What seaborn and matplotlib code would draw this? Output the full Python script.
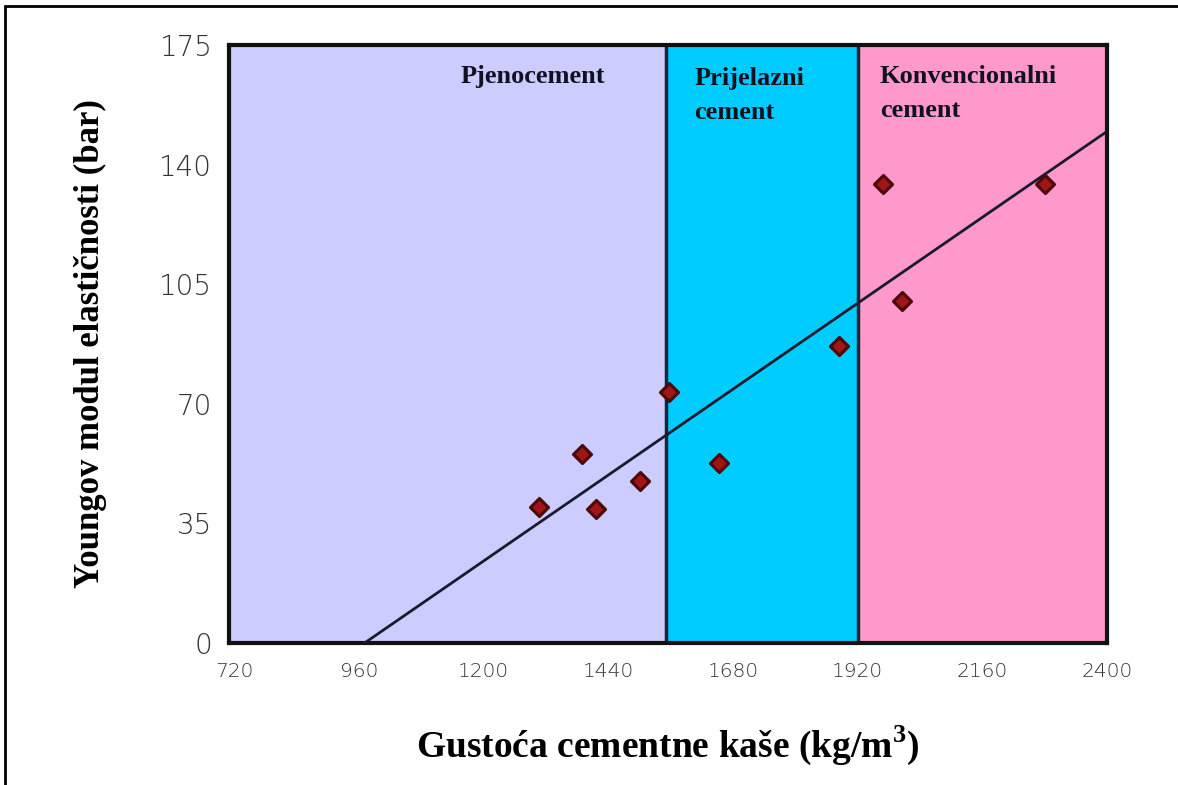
import matplotlib
matplotlib.use('Agg')
import matplotlib.pyplot as plt
from matplotlib.patches import Rectangle
import pandas as pd
import seaborn as sns

# Measured points (density kg/m3, Young's modulus bar)
density = [1307, 1390, 1417, 1501, 1556, 1654, 1885, 1968, 2006, 2281]
modulus = [39.9, 55.2, 39.3, 47.3, 73.4, 52.6, 86.9, 134.2, 100.1, 134.2]

# Trend line end points
trend_x = [971, 2400]
trend_y = [0, 149.7]

# Cement type regions
region_edges = [710, 1552, 1920, 2400]
region_colors = ['#ccccff', '#00ccff', '#ff99cc']
region_names = ['Pjenocement', 'Prijelazni\ncement', 'Konvencionalni\ncement']

x_ticks = [720, 960, 1200, 1440, 1680, 1920, 2160, 2400]
y_ticks = [0, 35, 70, 105, 140, 175]

sns.set_theme(style='white')
plt.rcParams['font.family'] = ['DejaVu Sans']

fig = plt.figure(figsize=(11.78, 7.85), dpi=100)
ax = fig.add_axes([0.1944, 0.1809, 0.7453, 0.7618])

for i, (c, name) in enumerate(zip(region_colors, region_names)):
    ax.axvspan(region_edges[i], region_edges[i + 1], color=c, zorder=0, lw=0)
    if i > 0:
        ax.axvline(region_edges[i], color='#10283a', lw=2.5, zorder=1)

df_pts = pd.DataFrame({'density': density, 'modulus': modulus})
df_line = pd.DataFrame({'density': trend_x, 'modulus': trend_y})

sns.lineplot(data=df_line, x='density', y='modulus', ax=ax, color='#1a1a2e',
             lw=2, zorder=3)
sns.scatterplot(data=df_pts, x='density', y='modulus', ax=ax, marker='D',
                s=85, color='#a01515', edgecolor='#4a0808', linewidth=2.2,
                zorder=4)

ax.set_xlim(region_edges[0], region_edges[-1])
ax.set_ylim(0, 175)
ax.set_xticks(x_ticks)
ax.set_yticks(y_ticks)
ax.tick_params(axis='y', labelsize=20, colors='#333333', pad=12, length=0)
ax.tick_params(axis='x', labelsize=14.5, colors='#333333', pad=14, length=0)
for lbl in ax.get_yticklabels() + ax.get_xticklabels():
    lbl.set_fontweight('light')

for sp in ax.spines.values():
    sp.set_visible(True)
    sp.set_color('#111111')
    sp.set_linewidth(3)

serif = ['Liberation Serif', 'DejaVu Serif']
ax.text(1295, 169, region_names[0], ha='center', va='top', fontsize=19,
        fontweight='bold', family=serif, color='#111122')
ax.text(1606, 168.5, region_names[1], ha='left', va='top', fontsize=19,
        fontweight='bold', family=serif, color='#111122', linespacing=1.6)
ax.text(1963, 169, region_names[2], ha='left', va='top', fontsize=19,
        fontweight='bold', family=serif, color='#111122', linespacing=1.6)

ax.set_xlabel('Gustoća cementne kaše (kg/m$^\\mathregular{3}$)', fontsize=27,
              fontweight='bold', family=serif, labelpad=30, color='black')
ax.set_ylabel('Youngov modul elastičnosti (bar)', fontsize=25,
              fontweight='bold', family=serif, labelpad=38, color='black')

# outer frame of the original picture
fig.patches.append(Rectangle((0.0042, -0.2), 1.5, 1.1924, transform=fig.transFigure,
                             fill=False, edgecolor='black', lw=2))

fig.savefig('out.png', dpi=100)
